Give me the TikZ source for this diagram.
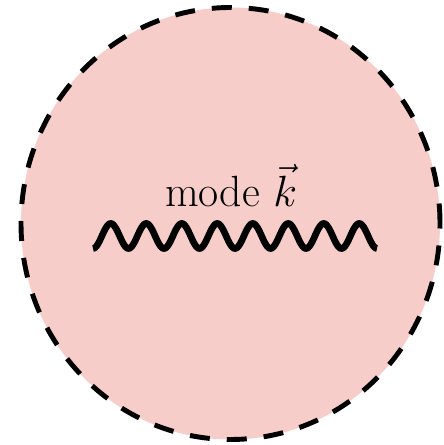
\documentclass[tikz,border=0pt]{standalone}
\usepackage{tikz}
\usepackage{mathtools}
\definecolor{modepink}{RGB}{246,205,200}

\begin{document}
\begin{tikzpicture}[
	boundary/.style={dash pattern=on 0.4cm off 0.34cm, line width=2.8pt, fill=modepink},
	photon/.style={line width=3.8pt}]
	\useasboundingbox (0,0) rectangle (8.86,8.90);
	\draw[boundary] (4.61,4.43) ellipse [x radius=4.19cm, y radius=4.32cm];
	\node[anchor=base] (modelabel) at (4.62,4.76) {\Huge mode $\vec{k}$};
	\coordinate (wavestart) at (1.86,4.18);
	\draw[photon, shift={(wavestart)}] plot[domain=0:2880, samples=241] ({\x/360*0.71}, {-0.25*cos(\x)});
\end{tikzpicture}
\end{document}
